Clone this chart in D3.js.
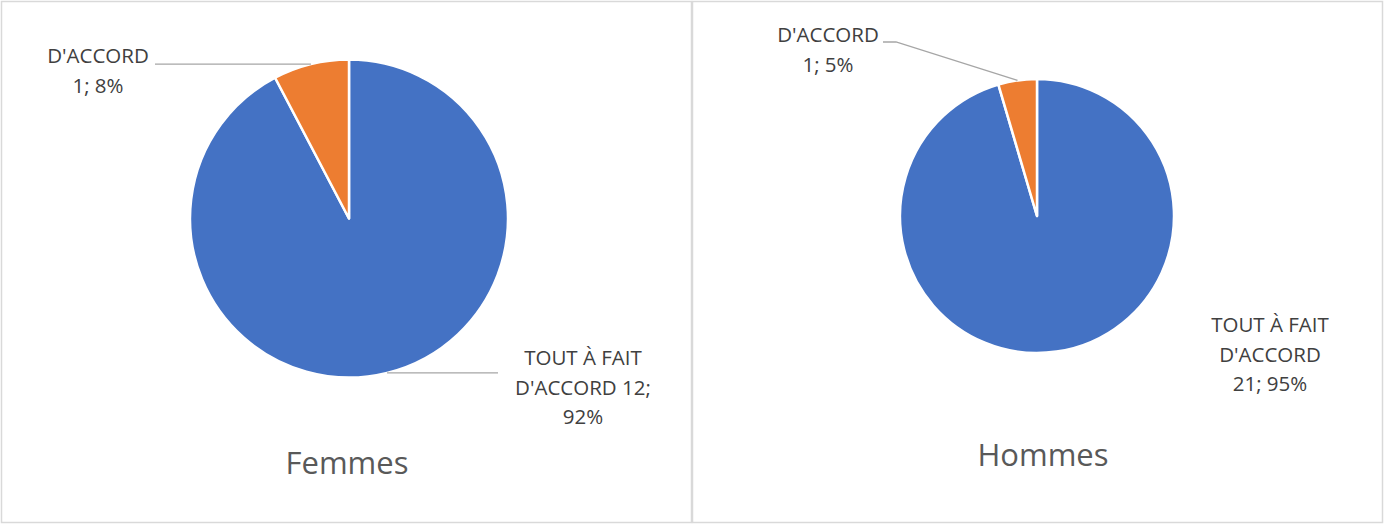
<!DOCTYPE html>
<html>
<head>
<meta charset="utf-8">
<script src="https://cdn.jsdelivr.net/npm/d3@7"></script>
<style>
  body { margin: 0; background: #fff; }
  svg { display: block; }
</style>
</head>
<body>
<script>
// --- Data ---
const categories = ["TOUT À FAIT D'ACCORD", "D'ACCORD"];
const femmesValues = [12, 1];
const hommesValues = [21, 1];
const titles = ["Femmes", "Hommes"];
const colors = ["#4472C4", "#ED7D31"];

const W = 1385, H = 524;
const svg = d3.select("body").append("svg").attr("width", W).attr("height", H);

// panel layout: each chart gets its own bordered box
const panels = [
  {
    values: femmesValues, title: titles[0],
    box: [1.5, 1.5, 690, 521], cx: 349, cy: 218.5, r: 159, titleX: 347, titleY: 474,
    labels: [
      { lines: ["TOUT À FAIT", "D'ACCORD 12;", "92%"], x: 583, y: 365, leader: "h", lx: 498 },
      { lines: ["D'ACCORD", "1; 8%"], x: 98, y: 63, leader: "h", lx: 155 }
    ]
  },
  {
    values: hommesValues, title: titles[1],
    box: [692.5, 1.5, 690, 521], cx: 1037, cy: 216, r: 137, titleX: 1043, titleY: 466,
    labels: [
      { lines: ["TOUT À FAIT", "D'ACCORD", "21; 95%"], x: 1270, y: 332, leader: null },
      { lines: ["D'ACCORD", "1; 5%"], x: 828, y: 42, leader: "bent", lx: 883, ly: 42 }
    ]
  }
];

const pie = d3.pie().sort(null).value(d => d);

panels.forEach(p => {
  const g = svg.append("g");

  g.append("rect")
    .attr("x", p.box[0]).attr("y", p.box[1])
    .attr("width", p.box[2]).attr("height", p.box[3])
    .attr("fill", "#fff").attr("stroke", "#d9d9d9").attr("stroke-width", 1.5);

  const arcs = pie(p.values);
  const arc = d3.arc().innerRadius(0).outerRadius(p.r);
  const edge = d3.arc().innerRadius(p.r).outerRadius(p.r);

  const pieG = g.append("g").attr("transform", `translate(${p.cx},${p.cy})`);
  pieG.selectAll("path")
    .data(arcs)
    .join("path")
    .attr("d", arc)
    .attr("fill", (d, i) => colors[i])
    .attr("stroke", "#fff")
    .attr("stroke-width", 2.5)
    .attr("stroke-linejoin", "round");

  // data labels + leader lines
  p.labels.forEach((lab, i) => {
    const c = edge.centroid(arcs[i]);
    const px = p.cx + c[0], py = p.cy + c[1];
    if (lab.leader === "h") {
      g.append("line")
        .attr("x1", px).attr("y1", py).attr("x2", lab.lx).attr("y2", py)
        .attr("stroke", "#a6a6a6").attr("stroke-width", 1.3);
    } else if (lab.leader === "bent") {
      g.append("polyline")
        .attr("points", `${lab.lx},${lab.ly} ${lab.lx + 13},${lab.ly} ${px},${py}`)
        .attr("fill", "none")
        .attr("stroke", "#a6a6a6").attr("stroke-width", 1.3);
    }
    const t = g.append("text")
      .attr("text-anchor", "middle")
      .attr("font-family", "'Open Sans', sans-serif")
      .attr("font-size", 20.5)
      .attr("fill", "#404040");
    lab.lines.forEach((ln, k) => {
      t.append("tspan").attr("x", lab.x).attr("y", lab.y + k * 29.5).text(ln);
    });
  });

  g.append("text")
    .attr("x", p.titleX)
    .attr("y", p.titleY)
    .attr("text-anchor", "middle")
    .attr("font-family", "'Open Sans', sans-serif")
    .attr("font-size", 31)
    .attr("fill", "#595959")
    .text(p.title);
});
</script>
</body>
</html>
